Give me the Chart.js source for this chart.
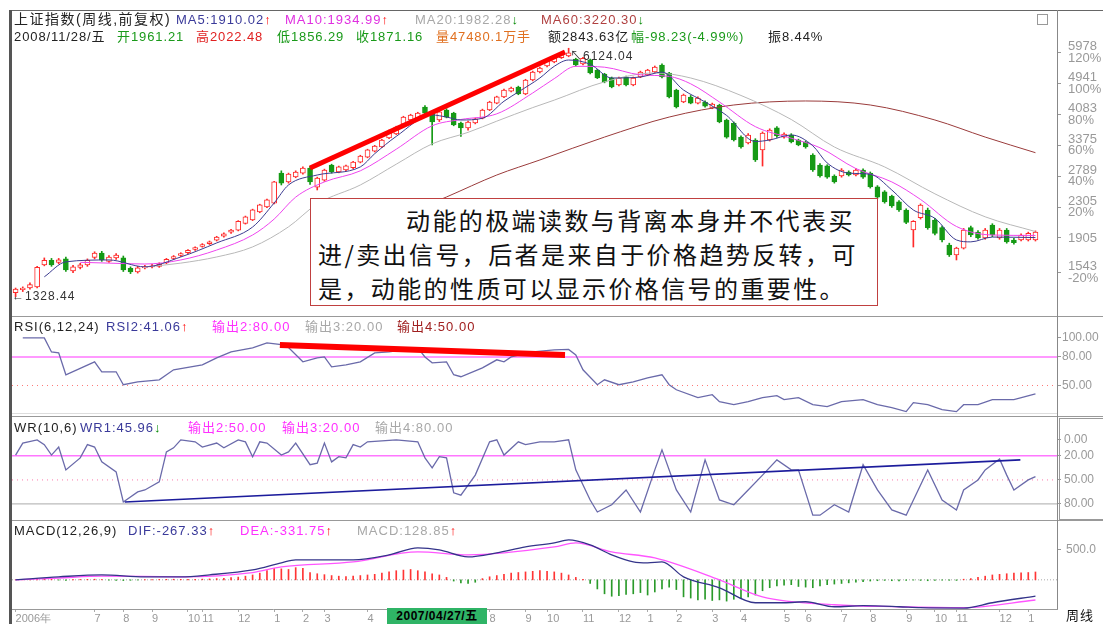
<!DOCTYPE html>
<html><head><meta charset="utf-8">
<script src="https://cdn.jsdelivr.net/npm/chart.js@4.4.1/dist/chart.umd.min.js"></script>
<style>
html,body{margin:0;padding:0;background:#fff;}
body{width:1103px;height:624px;overflow:hidden;position:relative;font-family:"Liberation Sans","Noto Sans CJK SC",sans-serif;}
canvas{position:absolute;left:0;}
.h{position:absolute;font-size:13px;line-height:15px;letter-spacing:1px;white-space:nowrap;z-index:5;}
.r2{letter-spacing:0.9px;}
.ln{position:absolute;z-index:4;}
.up{color:#f00;} .dn{color:#080;}
#box{position:absolute;left:310px;top:198px;border:1.5px solid #c04040;background:#fff;z-index:6;
 font-family:"Noto Sans CJK SC",sans-serif;font-size:24px;line-height:34px;letter-spacing:2.4px;color:#111;padding:4px 0 0 7px;box-sizing:border-box;width:568px;height:108px;}
</style></head><body>
<canvas id="cMain" width="1110" height="304" style="top:12px;width:1110px;height:304px"></canvas>
<canvas id="cRsi" width="1110" height="100" style="top:316px;width:1110px;height:100px"></canvas>
<canvas id="cWr" width="1110" height="104" style="top:416px;width:1110px;height:104px"></canvas>
<canvas id="cMacd" width="1110" height="104" style="top:520px;width:1110px;height:104px"></canvas>

<div class="ln" style="left:9px;top:10px;width:1094px;height:1px;background:#666"></div>
<div class="ln" style="left:9px;top:10px;width:3px;height:614px;background:#555"></div>
<div class="ln" style="left:12px;top:316px;width:1091px;height:1px;background:#999"></div>
<div class="ln" style="left:12px;top:416px;width:1091px;height:1px;background:#999"></div>
<div class="ln" style="left:12px;top:520px;width:1091px;height:1px;background:#999"></div>
<div class="ln" style="left:1057px;top:10px;width:1px;height:599px;background:#888"></div>
<div class="ln" style="left:1059px;top:418px;width:44px;height:100px;border:1px solid #999;border-right:none"></div>
<div class="ln" style="left:1037px;top:14px;width:9px;height:9px;border:1px solid #999"></div>

<div class="h" style="left:14px;top:12px;color:#222;font-size:14px;letter-spacing:1.5px">上证指数(周线,前复权)</div>
<div class="h" style="left:176px;top:12px;color:#3a3a9a">MA5:1910.02<span class="up">↑</span></div>
<div class="h" style="left:285px;top:12px;color:#e030e0">MA10:1934.99<span class="up">↑</span></div>
<div class="h" style="left:415px;top:12px;color:#a8a8a8">MA20:1982.28<span class="dn">↓</span></div>
<div class="h" style="left:541px;top:12px;color:#b04040">MA60:3220.30<span class="dn">↓</span></div>

<div class="h r2" style="left:14px;top:29px;color:#222">2008/11/28/五</div>
<div class="h r2" style="left:117px;top:29px;color:#1a9a1a">开1961.21</div>
<div class="h r2" style="left:196px;top:29px;color:#e02020">高2022.48</div>
<div class="h r2" style="left:277px;top:29px;color:#1a9a1a">低1856.29</div>
<div class="h r2" style="left:356px;top:29px;color:#1a9a1a">收1871.16</div>
<div class="h r2" style="left:436px;top:29px;color:#e07020">量47480.1万手</div>
<div class="h r2" style="left:548px;top:29px;color:#222">额2843.63亿</div>
<div class="h r2" style="left:631px;top:29px;color:#1a9a1a">幅-98.23(-4.99%)</div>
<div class="h r2" style="left:768px;top:29px;color:#222">振8.44%</div>

<div class="h" style="left:14px;top:319px;color:#222">RSI(6,12,24)</div>
<div class="h" style="left:106px;top:319px;color:#3a3a9a">RSI2:41.06<span class="up">↑</span></div>
<div class="h" style="left:212px;top:319px;color:#ff30ff">输出2:80.00</div>
<div class="h" style="left:305px;top:319px;color:#a8a8a8">输出3:20.00</div>
<div class="h" style="left:397px;top:319px;color:#a02020">输出4:50.00</div>

<div class="h" style="left:14px;top:420px;color:#222">WR(10,6)</div>
<div class="h" style="left:80px;top:420px;color:#3a3a9a">WR1:45.96<span class="dn">↓</span></div>
<div class="h" style="left:188px;top:420px;color:#ff30ff">输出2:50.00</div>
<div class="h" style="left:282px;top:420px;color:#ff30ff">输出3:20.00</div>
<div class="h" style="left:375px;top:420px;color:#a8a8a8">输出4:80.00</div>

<div class="h" style="left:14px;top:523px;color:#222">MACD(12,26,9)</div>
<div class="h" style="left:128px;top:523px;color:#3a3a9a">DIF:-267.33<span class="up">↑</span></div>
<div class="h" style="left:240px;top:523px;color:#ff30ff">DEA:-331.75<span class="up">↑</span></div>
<div class="h" style="left:357px;top:523px;color:#a8a8a8">MACD:128.85<span class="up">↑</span></div>

<div class="h" style="left:12px;top:289px;color:#333;font-size:12px">←1328.44</div>
<div class="h" style="left:570px;top:49px;color:#333;font-size:12px">↖6124.04</div>
<div class="h" style="left:387px;top:608px;width:100px;height:16px;background:#2fb466;color:#000;font-size:12px;font-weight:bold;line-height:16px;letter-spacing:0.5px;text-align:center">2007/04/27/五</div>
<div class="h" style="left:1066px;top:608px;color:#111;font-size:13px">周线</div>

<div id="box"><div style="text-indent:88px">动能的极端读数与背离本身并不代表买</div><div>进/卖出信号，后者是来自于价格趋势反转，可</div><div>是，动能的性质可以显示价格信号的重要性。</div></div>

<script>
// ---------- data (weekly) ----------
const open = [1360,1385,1400,1410,1615,1660,1640,1675,1555,1590, 1613,1690,1735,1650,1685,1685,1580,1545,1585,1595,
 1600,1635,1680,1710,1740,1775,1810,1840,1880,1925, 1975,2000,2085,2130,2235,2305,2360,2840,2690,2775,
 2840,2930,2605,2720,2985,2860,2895,2935,3040,3135, 3250,3335,3525,3615,3840,3938,3985,4265,4110,3938,
 4188,4110,3865,3750,3865,3985,4188,4370,4540,4700, 4820,4620,5037,5290,5490,5630,5780,5840,5725,5560,
 5696,5356,5225,5100,4884,5130,4884,5130,5194,5290, 5524,5258,4736,4400,4537,4370,4400,4240,4319,3938,
 3865,3545,3420,3482,3274,3482,3750,3545,3591,3482, 3440,3175,2986,2970,2790,2790,2860,2807,2895,2840,
 2610,2530,2465,2380,2263,2001,2160,2263,2128,2030, 1825,1716,1790,2030,1975,1905,2064,1905,2001,1882,
 1882,1882,1882];
const high = [1400,1410,1445,1600,1685,1680,1680,1695,1610,1630, 1675,1750,1755,1710,1730,1705,1595,1600,1610,1620,
 1635,1680,1710,1740,1775,1805,1840,1870,1925,1965, 2010,2120,2180,2275,2345,2420,2700,2880,2840,2880,
 2950,2960,2770,2910,3000,2965,2985,3055,3170,3290, 3370,3495,3700,3790,4030,4080,4130,4300,4150,4160,
 4220,4130,3890,3910,3985,4210,4420,4560,4760,4820, 4850,5060,5320,5450,5720,5840,5940,6124,5760,5790,
 5730,5380,5250,5130,5130,5160,5130,5320,5380,5490, 5560,5280,4760,4620,4580,4540,4430,4370,4340,3960,
 3890,3570,3620,3510,3660,3730,3780,3640,3620,3500, 3460,3200,3010,2990,2810,2920,2880,2920,2915,2860,
 2630,2550,2480,2400,2280,2120,2350,2290,2150,2050, 1845,1800,2020,2050,1995,2020,2080,2020,2020,1900,
 1955,1975,1990];
const low = [1328,1370,1390,1400,1605,1600,1625,1550,1540,1575, 1600,1675,1650,1640,1670,1550,1530,1535,1575,1585,
 1590,1625,1670,1700,1730,1765,1800,1830,1870,1915, 1960,1990,2075,2120,2225,2295,2350,2640,2670,2760,
 2820,2650,2560,2700,2840,2845,2880,2920,3025,3120, 3235,3320,3510,3600,3820,3920,3965,4090,3376,3900,
 3990,3800,3560,3700,3845,3965,4170,4350,4520,4680, 4600,4600,5010,5260,5460,5600,5750,5810,5490,5530,
 5230,5080,4950,4800,4860,4860,4860,5110,5170,5270, 5100,4510,4240,4380,4350,4350,4260,4220,3870,3520,
 3460,3310,3400,3050,2966,3460,3540,3520,3420,3360, 3310,2870,2770,2750,2670,2770,2790,2790,2750,2590,
 2430,2360,2300,2245,2080,1802,2140,2010,1940,1860, 1700,1664,1780,1920,1890,1890,1920,1890,1845,1835,
 1870,1870,1870];
const close = [1390,1400,1430,1590,1660,1615,1665,1565,1595,1615, 1660,1735,1665,1695,1715,1565,1545,1585,1595,1605,
 1620,1670,1700,1730,1765,1795,1830,1860,1915,1955, 2000,2110,2170,2265,2335,2410,2690,2670,2825,2860,
 2930,2690,2755,2895,2860,2950,2970,3040,3155,3275, 3355,3480,3680,3770,4010,4061,4110,4110,3890,4138,
 4010,3819,3750,3890,3965,4188,4400,4540,4736,4795, 4620,5037,5290,5420,5696,5815,5910,5950,5524,5760,
 5260,5100,4975,4825,5100,4884,5100,5290,5356,5455, 5130,4537,4265,4593,4370,4510,4290,4345,3890,3545,
 3482,3335,3591,3079,3635,3703,3568,3613,3440,3376, 3335,2895,2790,2770,2690,2895,2807,2895,2770,2610,
 2450,2380,2320,2263,2095,2110,2334,2030,1960,1882, 1716,1790,2001,1940,1905,2001,1940,2001,1860,1850,
 1940,1960,1975];

const ma5Idx = [4,7,13,18,23,28,33,36,38,42,48,50,53,58,60,62,65,68,70,73,75,77,80,83,87,90,93,96,99,103,105,108,111,113,116,119,122,125,128,131,133,136,142];
const ma5Val = [1500,1645,1664,1595,1695,1848,2038,2363,2640,2807,2950,3200,3560,4061,4010,3938,3980,4420,4680,5100,5480,5696,5550,5100,5130,5290,4736,4400,4050,3450,3482,3591,3360,3023,2840,2820,2560,2263,2150,1882,1860,1916,1910];
const ma10Idx = [9,13,18,23,28,33,36,39,43,48,53,58,62,67,72,75,78,82,87,91,94,98,103,108,112,117,122,126,131,136,142];
const ma10Val = [1640,1632,1623,1664,1769,1940,2140,2450,2690,2880,3290,3800,3950,4090,4650,5080,5480,5450,5200,5150,4920,4400,3780,3520,3320,2920,2690,2415,2045,1940,1935];
const ma20Idx = [19,23,28,33,38,42,48,53,58,63,67,72,75,82,89,94,101,108,114,121,128,135,142];
const ma20Val = [1600,1632,1695,1803,2040,2350,2640,3000,3400,3650,3910,4250,4450,4980,5260,5100,4580,3950,3335,2950,2500,2170,1982];
const ma60Idx = [59,60,67,73,82,91,100,110,119,128,135,142];
const ma60Val = [2407,2452,2807,3079,3545,4010,4319,4427,4319,3938,3545,3220];

const rsiIdx = [1,4,5,6,7,11,12,14,15,17,20,22,26,28,30,33,35,37,38,40,42,43,44,46,48,50,52,56,57,58,60,61,62,65,67,68,69,72,75,77,78,79,81,82,84,86,88,90,91,92,95,97,98,100,102,104,106,107,109,111,113,115,118,120,122,124,125,127,129,131,132,134,136,139,142];
const rsiVal = [100,100,85.3,84.3,61.3,74.9,64.4,64.4,50.8,53.9,56,66.5,71.7,79,85.3,89.5,94.8,93,90,74.9,79,80,69.6,71.7,74.9,84.3,85.3,89.5,80,73.8,74.9,61.3,59.2,68.6,77,74.9,80,85.3,87.4,88,82.2,66.5,50.8,56,50.8,53.9,58.1,61.3,50.8,45.5,37.2,40.3,33,29.8,33,37.2,39.3,35.1,37.2,29.8,27.7,33,35.1,29.8,26.7,22.5,31.9,29.8,24.6,22.5,29.8,29.8,35.1,35.1,41.06];

const wrIdx = [0,1,3,4,5,6,7,9,10,11,12,14,15,17,18,20,21,22,23,25,26,28,29,31,32,33,34,35,37,38,39,41,42,43,44,45,46,47,48,49,53,56,57,58,59,60,61,62,64,66,67,68,70,71,73,75,77,78,80,81,83,85,87,89,90,92,94,96,98,100,102,104,106,108,109,111,112,114,116,118,120,122,124,127,129,131,132,134,135,137,138,139,141,142];
const wrVal = [19,4,0,6,19,9,37.5,22.5,6,9,27.5,40,77.5,65,62.5,52.5,15,10,0,2.5,9,4,10,0,2.5,21,2.5,4,19,15,4,31,29,4,27.5,21,22.5,6,9,2.5,0,2.5,22.5,35,21,22.5,66,69,44,2.5,0,19,2.5,6,2.5,2.5,0,37.5,75,90,81,62.5,90,37.5,12.5,62.5,90,25,75,81,62.5,44,25,37.5,37.5,94,94,81,90,31,62.5,87.5,94,37.5,75,87.5,62.5,50,37.5,24,44,62.5,50,45.96];

const difIdx = [0,6,12,18,23,27,33,37,39,43,47,52,56,59,63,67,71,75,77,80,83,86,88,90,93,98,103,107,110,114,118,123,126,132,136,142];
const difVal = [0,49,82,49,49,82,164,279,328,328,328,410,525,492,377,443,541,607,656,574,410,295,279,295,49,-131,-377,-377,-361,-443,-426,-443,-459,-465,-377,-267.33];
const deaIdx = [0,6,12,23,33,37,47,56,63,75,78,83,89,98,104,114,123,132,142];
const deaVal = [0,30,60,50,120,213,295,459,410,541,607,459,360,0,-279,-410,-443,-459,-331.75];
const macdHist = [0,5,10,15,12,8,-5,-8,4,6, 8,10,5,-6,-10,-12,-8,-4,3,5, 6,8,10,8,6,10,12,15,20,25,
 35,45,60,80,110,150,190,180,170,200, 190,120,100,85,70,60,55,60,70,80, 90,110,130,150,160,170,150,130,100,80,
 40,-20,-50,-60,-40,20,50,70,90,110, 120,130,140,150,140,130,110,80,40,10, -60,-150,-230,-270,-260,-240,-230,-210,-250,-200,
 -150,-120,-160,-280,-300,-330,-320,-340,-330,-350, -320,-300,-280,-250,-180,-130,-100,-90,-80,-110,
 -120,-130,-100,-80,-70,-60,-50,-40,-30,-20, -15,-10,-15,-20,-10,-5,-10,-15,-10,-5, -8,-10,10,20,40,60,80,90,100,110,
 115,120,128.85];

// hand-drawn trend lines (endpoints)
const priceTrendIdx = [41, 76.5], priceTrendVal = [2930, 5985];
const rsiTrendIdx = [36.8, 76.5], rsiTrendVal = [92.7, 82.2];
const wrTrendIdx = [15.2, 139.9], wrTrendVal = [77.5, 25];

const rsiLevels = [80, 50, 20];
const wrLevels = [20, 50, 80];

const mainTickVals = [5978,4941,4083,3375,2789,2305,1905,1543];
const mainTickPct = ['120%','100%','80%','60%','40%','20%','','-20%'];
const rsiTickVals = [100,80,50];
const wrTickVals = [0,20,50,80];
const macdTickVals = [500];
const monthIdx = [0,11,15,19,24,26,31,36,40,43,49,53,57,62,66,71,74,79,84,88,92,97,101,107,110,115,119,124,128,131,137,141];
const monthLabels = ['2006年','7','8','9','10','11','12','1','2','3','4','5','6','7','8','9','10','11','12','1','2','3','4','5','6','7','8','9','10','11','12','1'];

// ---------- chart setup ----------
Chart.defaults.font.family = "'Liberation Sans', Arial, sans-serif";
Chart.defaults.font.size = 12;
const X_MIN = -0.5, X_MAX = 145;
const RED = '#ff2a2a', GREEN = '#159a15';
const pts = (idx, val) => idx.map((x, k) => ({x, y: val[k]}));
const hline = v => [{x: X_MIN, y: v}, {x: X_MAX, y: v}];
const lineDs = (data, color, w, extra) => Object.assign({type: 'line', data, borderColor: color, borderWidth: w, pointRadius: 0, fill: false}, extra || {});
const xHidden = {type: 'linear', min: X_MIN, max: X_MAX, display: false, offset: false};
const commonOpts = (pad) => ({responsive: false, animation: false, devicePixelRatio: 1, events: [],
  layout: {padding: pad}, plugins: {legend: {display: false}, tooltip: {enabled: false}}});
function yAxis(base, tickVals, labelFn, pad, fsize) {
  return Object.assign({
    position: 'right', bounds: 'data',
    afterBuildTicks: s => { s.ticks = tickVals.map(v => ({value: v})); },
    afterFit: s => { s.width = 53; s.paddingTop = 0; s.paddingBottom = 0; },
    ticks: {autoSkip: false, color: '#999', font: {size: fsize || 12, lineHeight: 0.9}, crossAlign: 'near', padding: pad, callback: labelFn},
    grid: {drawOnChartArea: false, drawTicks: true, tickLength: 4, color: '#999'},
    border: {display: true, color: '#999'}
  }, base);
}
const isUp = i => close[i] >= open[i];

// main candlestick panel
new Chart(document.getElementById('cMain'), {
  type: 'bar',
  data: {datasets: [
    lineDs(pts(priceTrendIdx, priceTrendVal), '#ff0000', 5, {order: 0}),
    lineDs(pts(ma5Idx, ma5Val), '#3c3c90', 1, {order: 1, cubicInterpolationMode: 'monotone'}),
    lineDs(pts(ma10Idx, ma10Val), '#ee44ee', 1, {order: 2, cubicInterpolationMode: 'monotone'}),
    lineDs(pts(ma20Idx, ma20Val), '#b8b8b8', 1, {order: 2, cubicInterpolationMode: 'monotone'}),
    lineDs(pts(ma60Idx, ma60Val), '#9a3b3b', 1, {order: 2, cubicInterpolationMode: 'monotone'}),
    {type: 'bar', data: open.map((o, i) => ({x: i, y: [o, close[i]]})), barThickness: 5, grouped: false,
      minBarLength: 1, borderSkipped: false, borderWidth: 1, order: 4,
      backgroundColor: c => (c.dataIndex == null || isUp(c.dataIndex)) ? '#ffffff' : GREEN,
      borderColor: c => (c.dataIndex == null || isUp(c.dataIndex)) ? RED : GREEN},
    {type: 'bar', data: high.map((h, i) => ({x: i, y: [low[i], h]})), barThickness: 1, grouped: false,
      borderWidth: 0, order: 5,
      backgroundColor: c => (c.dataIndex == null || isUp(c.dataIndex)) ? RED : GREEN}
  ]},
  options: Object.assign(commonOpts({left: 12, right: 0, top: 28, bottom: 4}), {
    scales: {
      x: xHidden,
      y: yAxis({type: 'logarithmic', min: 1208, max: 6443}, mainTickVals, v => {
        const k = mainTickVals.indexOf(v);
        if (k < 0) return '';
        return mainTickPct[k] ? [String(v), mainTickPct[k]] : String(v);
      }, 7, 13)
    }
  })
});

// RSI panel
new Chart(document.getElementById('cRsi'), {
  type: 'line',
  data: {datasets: [
    lineDs(pts(rsiTrendIdx, rsiTrendVal), '#ff0000', 6, {order: 0}),
    lineDs(pts(rsiIdx, rsiVal), '#6a6aaa', 1.3, {order: 1}),
    lineDs(hline(rsiLevels[0]), '#ff77ff', 1.5, {order: 2}),
    lineDs(hline(rsiLevels[1]), '#ff7777', 1, {order: 2, borderDash: [1, 4]}),
    lineDs(hline(rsiLevels[2]), '#bbbbbb', 1, {order: 2})
  ]},
  options: Object.assign(commonOpts({left: 12, right: 0, top: 2, bottom: 2}), {
    scales: {x: xHidden, y: yAxis({type: 'linear', min: 20, max: 121}, rsiTickVals, v => v.toFixed(2), 1)}
  })
});

// WR panel
new Chart(document.getElementById('cWr'), {
  type: 'line',
  data: {datasets: [
    lineDs(pts(wrTrendIdx, wrTrendVal), '#1c1c9c', 1.6, {order: 0}),
    lineDs(pts(wrIdx, wrVal), '#6a6aaa', 1.3, {order: 1}),
    lineDs(hline(wrLevels[0]), '#ff77ff', 1.5, {order: 2}),
    lineDs(hline(wrLevels[1]), '#ff77aa', 1, {order: 2, borderDash: [1, 4]}),
    lineDs(hline(wrLevels[2]), '#bbbbbb', 1.2, {order: 2})
  ]},
  options: Object.assign(commonOpts({left: 12, right: 0, top: 3, bottom: 2}), {
    scales: {x: xHidden, y: yAxis({type: 'linear', min: -26, max: 97.5, reverse: true}, wrTickVals, v => v.toFixed(2), 3)}
  })
});

// MACD panel with date axis
new Chart(document.getElementById('cMacd'), {
  type: 'bar',
  data: {datasets: [
    lineDs(pts(difIdx, difVal), '#34348a', 1.3, {order: 0, cubicInterpolationMode: 'monotone'}),
    lineDs(pts(deaIdx, deaVal), '#ff55ff', 1.3, {order: 1, cubicInterpolationMode: 'monotone'}),
    lineDs(hline(0), '#aaaaaa', 1, {order: 3, borderDash: [1, 2]}),
    {type: 'bar', data: macdHist.map((v, i) => ({x: i, y: v})), barThickness: 1, grouped: false, borderWidth: 0, order: 2,
      backgroundColor: c => (c.raw && c.raw.y < 0) ? '#2a9a2a' : '#ff3535'}
  ]},
  options: Object.assign(commonOpts({left: 12, right: 0, top: 2, bottom: 0}), {
    scales: {
      x: {type: 'linear', min: X_MIN, max: X_MAX, offset: false, position: 'bottom',
        afterBuildTicks: s => { s.ticks = monthIdx.map(v => ({value: v})); },
        afterFit: s => { s.height = 15; s.paddingLeft = 0; s.paddingRight = 0; },
        ticks: {autoSkip: false, maxRotation: 0, minRotation: 0, align: 'start', color: '#999', font: {size: 11}, padding: 0,
          callback: (v, k) => monthLabels[k]},
        grid: {drawOnChartArea: false, drawTicks: true, tickLength: 3, color: '#aaa', offset: false},
        border: {display: true, color: '#999'}},
      y: yAxis({type: 'linear', min: -480, max: 951}, macdTickVals, v => v.toFixed(1), 5)
    }
  })
});
</script>
</body></html>
